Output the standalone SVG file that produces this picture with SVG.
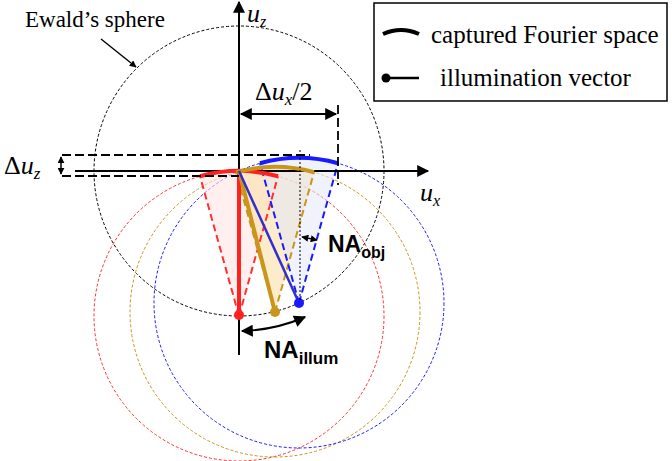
<svg xmlns="http://www.w3.org/2000/svg" width="672" height="461" viewBox="0 0 672 461">
<style>
.serif{font-family:"Liberation Serif",serif;fill:#000}
.sans{font-family:"Liberation Sans",Arial,sans-serif;font-weight:bold;fill:#000}
.ax{stroke:#000;stroke-width:2;fill:none}
.dash{stroke:#000;stroke-width:1.8;fill:none;stroke-dasharray:9,4}
.circ{fill:none;stroke-width:1;stroke-dasharray:3,2}
.ray{fill:none;stroke-width:2;stroke-dasharray:7,4}
.pup{fill:none;stroke-width:4}
</style>
<defs>
<marker id="ah" viewBox="0 0 10 10" refX="9" refY="5" markerWidth="7" markerHeight="7" orient="auto-start-reverse" markerUnits="userSpaceOnUse"><path d="M0,0 L10,5 L0,10 Z" fill="#000"/></marker>
<marker id="ah2" viewBox="0 0 10 10" refX="9" refY="5" markerWidth="14" markerHeight="12" orient="auto-start-reverse" markerUnits="userSpaceOnUse"><path d="M0,0 L10,5 L0,10 Z" fill="#000"/></marker>
</defs>
<rect width="672" height="461" fill="#fff"/>
<g id="ewald">
<circle cx="239" cy="171" r="145" class="circ" stroke="#000"/>
<text x="25" y="27" class="serif" font-size="23">Ewald’s sphere</text>
<line x1="101" y1="39" x2="136" y2="67" stroke="#000" stroke-width="1.5" marker-end="url(#ah)"/>
</g>
<g id="circles">
<circle cx="239" cy="316" r="145" class="circ" stroke="#ff3030"/>
<circle cx="275" cy="312" r="145" class="circ" stroke="#c8961a"/>
<circle cx="299" cy="303" r="145" class="circ" stroke="#1a1aff"/>
</g>
<g id="wedges">
<path d="M239,316 L200,176.3 A145,145 0 0 1 278,176.3 Z" fill="#ffe4e4" fill-opacity="0.6"/>
<path d="M275,312 L236,172.3 A145,145 0 0 1 314,172.3 Z" fill="#fbe0a8" fill-opacity="0.6"/>
<path d="M299,303 L260,163.3 A145,145 0 0 1 338,163.3 Z" fill="#e4e8fa" fill-opacity="0.55"/>
<path d="M239,316 L200,176.3 M239,316 L278,176.3" class="ray" stroke="#ff3030"/>
<path d="M275,312 L236,172.3 M275,312 L314,172.3" class="ray" stroke="#c8961a"/>
<path d="M299,303 L260,163.3 M299,303 L338,163.3" class="ray" stroke="#1a1aff"/>
</g>
<g id="axes">
<line x1="239" y1="355" x2="239" y2="2" class="ax" marker-end="url(#ah2)"/>
<line x1="75" y1="171" x2="428" y2="171" class="ax" marker-end="url(#ah2)"/>
<text x="247" y="22" class="serif" font-size="26" font-style="italic">u<tspan font-size="16" dy="5">z</tspan></text>
<text x="420" y="201" class="serif" font-size="26" font-style="italic">u<tspan font-size="16" dy="5">x</tspan></text>
</g>
<g id="pupils">
<path d="M200,176.3 A145,145 0 0 1 278,176.3" class="pup" stroke="#ff2020"/>
<path d="M236,172.3 A145,145 0 0 1 314,172.3" class="pup" stroke="#c8961a"/>
<path d="M260,163.3 A145,145 0 0 1 338,163.3" class="pup" stroke="#1a1aff"/>
</g>
<g id="vectors">
<line x1="239" y1="171" x2="239" y2="315" stroke="#ff2020" stroke-width="4"/>
<line x1="239" y1="171" x2="275" y2="312" stroke="#c8961a" stroke-width="4"/>
<line x1="239" y1="171" x2="299" y2="303" stroke="#3030d0" stroke-width="2.5"/>
<circle cx="239" cy="315" r="5" fill="#ff2020"/>
<circle cx="275" cy="312" r="5" fill="#c8961a"/>
<circle cx="299" cy="303" r="5" fill="#1a1aff"/>
</g>
<g id="connectors">
<line x1="62" y1="155" x2="310" y2="155" class="dash"/>
<line x1="62" y1="176" x2="239" y2="176" class="dash"/>
<line x1="61" y1="157" x2="61" y2="174" stroke="#000" stroke-width="1.5" marker-start="url(#ah)" marker-end="url(#ah)"/>
<line x1="338" y1="105" x2="338" y2="185" class="dash"/>
<line x1="241" y1="114" x2="336" y2="114" stroke="#000" stroke-width="2" marker-start="url(#ah2)" marker-end="url(#ah2)"/>
<line x1="300" y1="150" x2="300" y2="300" stroke="#000" stroke-width="1" stroke-dasharray="2,2"/>
<line x1="302" y1="237" x2="317" y2="240" stroke="#000" stroke-width="1.5" marker-start="url(#ah)" marker-end="url(#ah)"/>
<path d="M242,331 Q275,330 305,317" fill="none" stroke="#000" stroke-width="2" marker-start="url(#ah2)" marker-end="url(#ah2)"/>
</g>
<g id="labels">
<text x="4" y="174" class="serif" font-size="26">Δ<tspan font-style="italic">u</tspan><tspan font-size="17" dy="5" font-style="italic">z</tspan></text>
<text x="255" y="100" class="serif" font-size="26">Δ<tspan font-style="italic">u</tspan><tspan font-size="17" dy="5" font-style="italic">x</tspan><tspan dy="-5">/2</tspan></text>
<text x="328" y="252" class="sans" font-size="23">NA<tspan font-size="16" dy="6">obj</tspan></text>
<text x="264" y="358" class="sans" font-size="24">NA<tspan font-size="17" dy="6">illum</tspan></text>
</g>
<g id="legend">
<rect x="374" y="3" width="293" height="98" fill="#fff" stroke="#000" stroke-width="1.5"/>
<path d="M383,34 Q401,26 419,34" fill="none" stroke="#000" stroke-width="4"/>
<text x="431" y="43" class="serif" font-size="25">captured Fourier space</text>
<line x1="386" y1="78" x2="419" y2="78" stroke="#000" stroke-width="2.5"/>
<circle cx="386" cy="78" r="4.5" fill="#000"/>
<text x="440" y="86" class="serif" font-size="25">illumination vector</text>
</g>
</svg>
